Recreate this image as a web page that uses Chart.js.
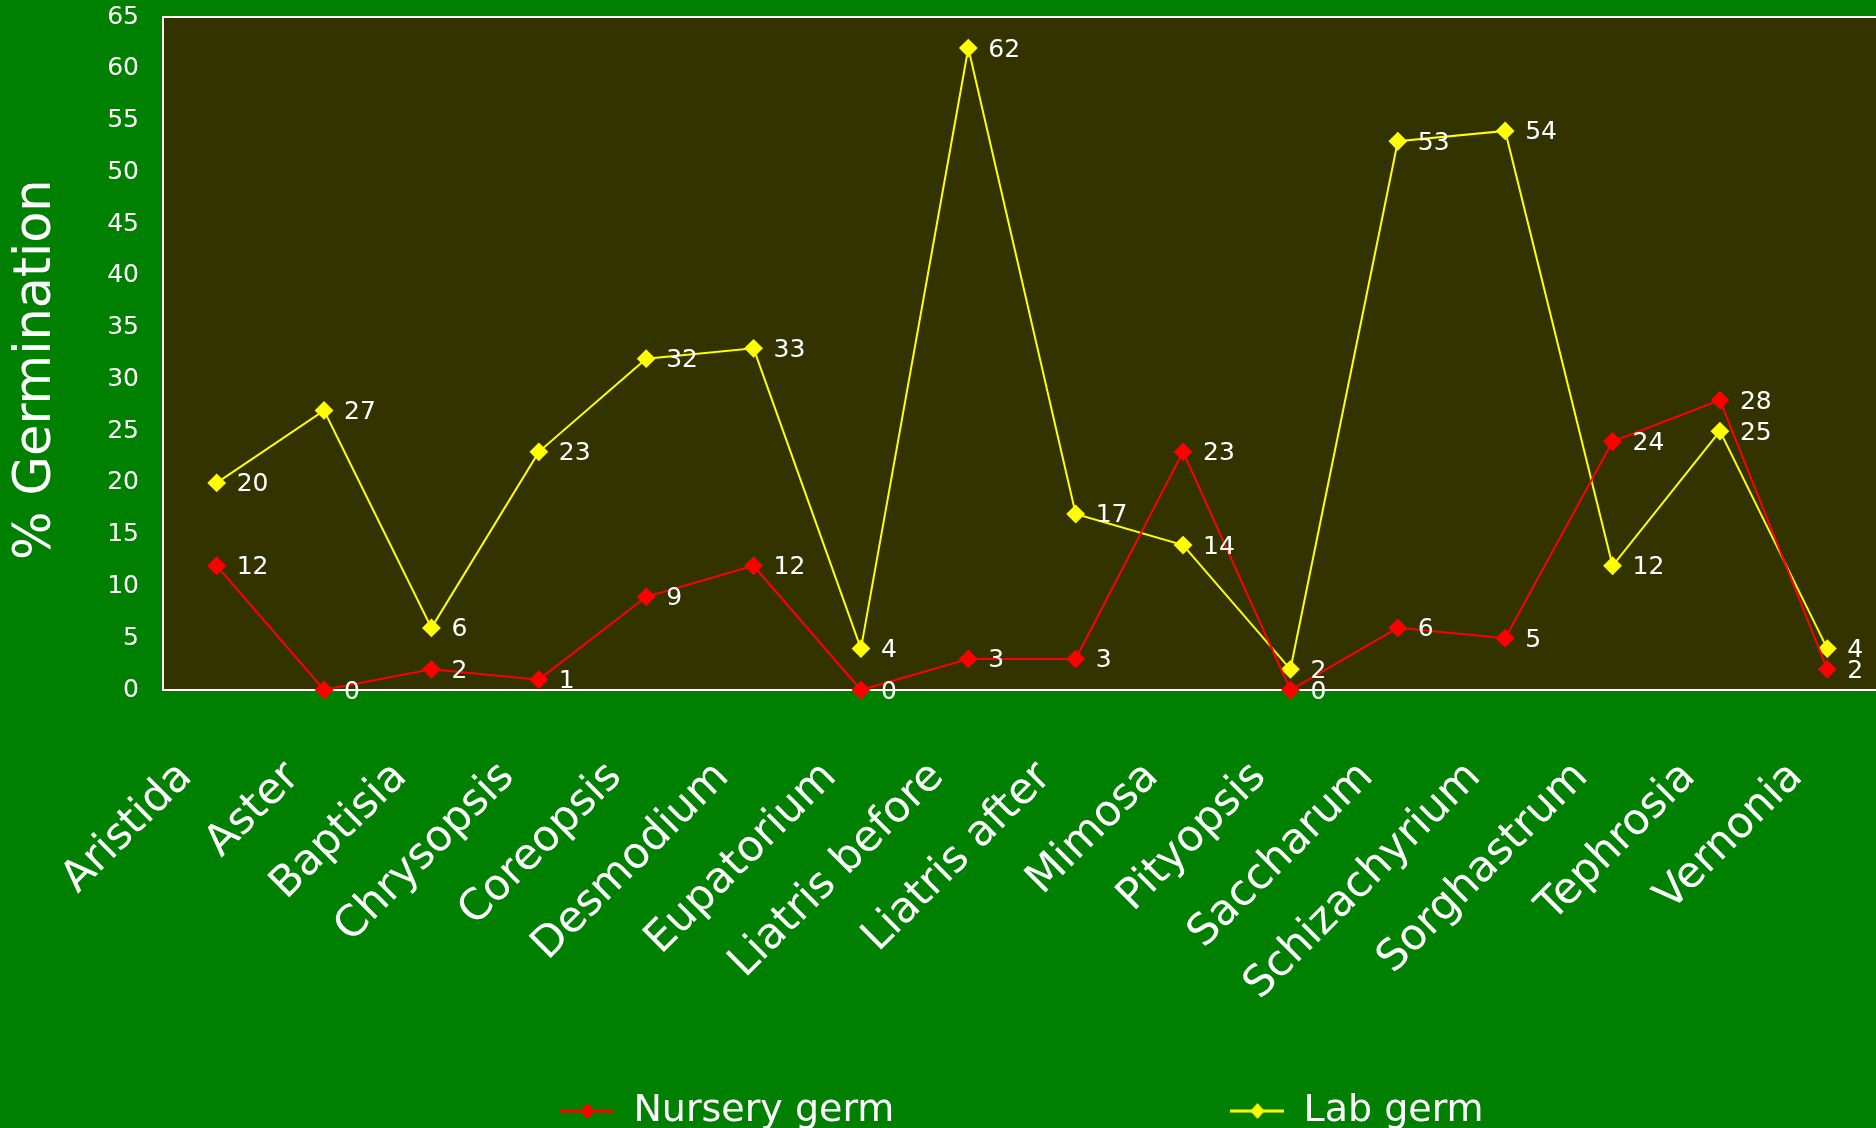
<!DOCTYPE html>
<html>
<head>
<meta charset="utf-8">
<script src="https://cdn.jsdelivr.net/npm/chart.js@4"></script>
<style>
  html, body { margin: 0; padding: 0; background: #008000; overflow: hidden; }
  canvas { display: block; }
</style>
</head>
<body>
<canvas id="germChart" width="1891" height="1128"></canvas>
<script>
// ---------- DATA ----------
const species = ["Aristida", "Aster", "Baptisia", "Chrysopsis", "Coreopsis", "Desmodium", "Eupatorium",
  "Liatris before", "Liatris after", "Mimosa", "Pityopsis", "Saccharum", "Schizachyrium",
  "Sorghastrum", "Tephrosia", "Vernonia"];
const nurseryGerm = [12, 0, 2, 1, 9, 12, 0, 3, 3, 23, 0, 6, 5, 24, 28, 2];
const labGerm = [20, 27, 6, 23, 32, 33, 4, 62, 17, 14, 2, 53, 54, 12, 25, 4];
const yTicks = { min: 0, max: 65, step: 5 };

const FONT = "'DejaVu Sans', sans-serif";

// legend mark: short line with a diamond on it
function legendMark(color) {
  const c = document.createElement("canvas");
  c.width = 54; c.height = 18;
  const g = c.getContext("2d");
  g.strokeStyle = color;
  g.lineWidth = 3;
  g.beginPath(); g.moveTo(0, 9); g.lineTo(54, 9); g.stroke();
  g.fillStyle = color;
  g.beginPath(); g.moveTo(27, 1); g.lineTo(34, 9); g.lineTo(27, 17); g.lineTo(20, 9); g.closePath(); g.fill();
  return c;
}

// plot background + top border
const plotBg = {
  id: "plotBg",
  beforeDraw(chart) {
    const { ctx, chartArea: a } = chart;
    ctx.save();
    ctx.fillStyle = "#008000";
    ctx.fillRect(0, 0, chart.width, chart.height);
    ctx.fillStyle = "#333300";
    ctx.fillRect(a.left, a.top, a.right - a.left, a.bottom - a.top);
    ctx.strokeStyle = "#ffffff";
    ctx.lineWidth = 2;
    ctx.beginPath(); ctx.moveTo(a.left, a.top); ctx.lineTo(a.right, a.top); ctx.stroke();
    ctx.restore();
  }
};

// numbers next to each point
const valueLabels = {
  id: "valueLabels",
  afterDatasetsDraw(chart) {
    const ctx = chart.ctx;
    ctx.save();
    ctx.font = "25px " + FONT;
    ctx.fillStyle = "#ffffff";
    ctx.textBaseline = "middle";
    ctx.textAlign = "left";
    chart.data.datasets.forEach((ds, i) => {
      chart.getDatasetMeta(i).data.forEach((pt, j) => {
        ctx.fillText(String(ds.data[j]), pt.x + 20, pt.y + 2);
      });
    });
    ctx.restore();
  }
};

// invisible tick marks keep the labels clear of the axes
const hiddenTicks = (len) => ({
  display: true, drawOnChartArea: false, drawTicks: true, tickLength: len, color: "rgba(0,0,0,0)"
});

new Chart(document.getElementById("germChart"), {
  type: "line",
  data: {
    labels: species,
    datasets: [
      {
        label: "Nursery germ",
        data: nurseryGerm,
        borderColor: "#ff0000",
        backgroundColor: "#ff0000",
        borderWidth: 2,
        pointStyle: "rectRot",
        pointRadius: 8,
        pointHoverRadius: 8,
        tension: 0,
        clip: false
      },
      {
        label: "Lab germ",
        data: labGerm,
        borderColor: "#ffff00",
        backgroundColor: "#ffff00",
        borderWidth: 2,
        pointStyle: "rectRot",
        pointRadius: 8,
        pointHoverRadius: 8,
        tension: 0,
        clip: false
      }
    ]
  },
  options: {
    responsive: false,
    animation: false,
    layout: { padding: { top: 17, left: 0, right: 0, bottom: 0 } },
    scales: {
      x: {
        offset: true,
        grid: hiddenTicks(62),
        border: { display: true, color: "#ffffff", width: 2 },
        ticks: {
          color: "#ffffff",
          font: { family: FONT, size: 43 },
          minRotation: 45,
          maxRotation: 45,
          autoSkip: false,
          labelOffset: -31,
          padding: 0
        },
        afterFit: (s) => { s.height = 392; }
      },
      y: {
        min: yTicks.min,
        max: yTicks.max,
        grid: hiddenTicks(24),
        border: { display: true, color: "#ffffff", width: 2 },
        ticks: {
          stepSize: yTicks.step,
          color: "#ffffff",
          font: { family: FONT, size: 25 },
          padding: 0
        },
        title: {
          display: true,
          text: "% Germination  ",
          color: "#ffffff",
          font: { family: FONT, size: 51 },
          padding: { top: 6, bottom: 0 }
        },
        afterFit: (s) => { s.width = 163; }
      }
    },
    plugins: {
      tooltip: { enabled: false },
      legend: {
        position: "bottom",
        fullSize: false,
        maxHeight: 46,
        labels: {
          color: "#ffffff",
          font: { family: FONT, size: 38 },
          usePointStyle: true,
          pointStyleWidth: 54,
          padding: 10,
          generateLabels: (chart) => chart.data.datasets.map((ds, i) => ({
            text: i === 0 ? ds.label + " ".repeat(27) : ds.label,
            fillStyle: ds.borderColor,
            strokeStyle: ds.borderColor,
            fontColor: "#ffffff",
            lineWidth: 0,
            pointStyle: legendMark(ds.borderColor),
            hidden: false,
            datasetIndex: i
          }))
        }
      }
    }
  },
  plugins: [plotBg, valueLabels]
});
</script>
</body>
</html>
